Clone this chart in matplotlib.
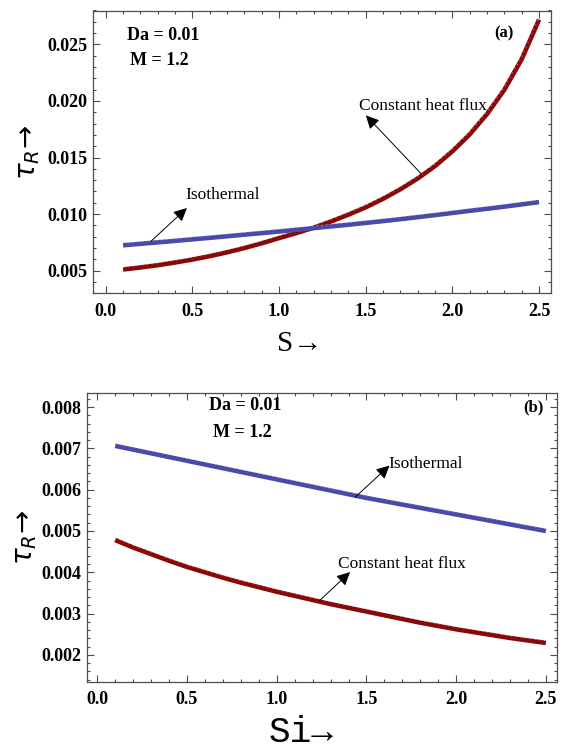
import numpy as np
import matplotlib
matplotlib.use('Agg')
from matplotlib import pyplot as plt
from matplotlib import transforms
from matplotlib.ticker import MultipleLocator

# x grid shared by both panels (S in (a), Si in (b))
x_vals = [0.1, 0.2, 0.3, 0.4, 0.5, 0.6, 0.7, 0.8, 0.9, 1.0, 1.1, 1.2, 1.3,
          1.4, 1.5, 1.6, 1.7, 1.8, 1.9, 2.0, 2.1, 2.2, 2.3, 2.4, 2.5]

# panel (a): tau_R vs S
a_flux = [0.00510, 0.00528, 0.00548, 0.00572, 0.00598, 0.00628, 0.00662,
          0.00700, 0.00742, 0.00788, 0.00832, 0.00880, 0.00935, 0.00995,
          0.01060, 0.01135, 0.01220, 0.01315, 0.01425, 0.01555, 0.01705,
          0.01885, 0.02100, 0.02370, 0.02720]
a_iso = [0.00724, 0.00737, 0.00750, 0.00763, 0.00777, 0.00790, 0.00804,
         0.00818, 0.00832, 0.00846, 0.00861, 0.00876, 0.00891, 0.00906,
         0.00922, 0.00938, 0.00955, 0.00973, 0.00991, 0.01010, 0.01029,
         0.01047, 0.01066, 0.01086, 0.01106]

# panel (b): tau_R vs Si
b_iso = [0.00706, 0.00697, 0.00688, 0.00679, 0.00670, 0.00661, 0.00652,
         0.00643, 0.00634, 0.00625, 0.00616, 0.00607, 0.00598, 0.00589,
         0.00580, 0.00572, 0.00564, 0.00556, 0.00548, 0.00540, 0.00532,
         0.00524, 0.00516, 0.00508, 0.00500]
b_flux = [0.00478, 0.00460, 0.00444, 0.00428, 0.00413, 0.00400, 0.00387,
          0.00375, 0.00364, 0.00353, 0.00343, 0.00333, 0.00323, 0.00314,
          0.00305, 0.00296, 0.00287, 0.00278, 0.00270, 0.00262, 0.00255,
          0.00248, 0.00241, 0.00235, 0.00229]

red = '#8a0808'
blue = '#4a4aa8'
serif = 'Liberation Serif'

fig = plt.figure(figsize=(5.64, 7.5), dpi=100)
ax1 = fig.add_axes([0.165, 0.609, 0.812, 0.377])
ax2 = fig.add_axes([0.154, 0.091, 0.833, 0.385])


def style_axes(ax, xmaj, xmin, ymaj, ymin, fmt):
    ax.xaxis.set_major_locator(MultipleLocator(xmaj))
    ax.xaxis.set_minor_locator(MultipleLocator(xmin))
    ax.yaxis.set_major_locator(MultipleLocator(ymaj))
    ax.yaxis.set_minor_locator(MultipleLocator(ymin))
    ax.tick_params(which='both', direction='in', top=True, right=True,
                   color='0.3', width=0.8)
    ax.tick_params(which='major', length=5)
    ax.tick_params(which='minor', length=2.5)
    ax.tick_params(axis='x', pad=7)
    ax.tick_params(axis='y', pad=4)
    ax.xaxis.set_major_formatter(plt.FuncFormatter(lambda v, p: '%.1f' % v))
    ax.yaxis.set_major_formatter(plt.FuncFormatter(lambda v, p: fmt % v))
    for lab in ax.get_xticklabels() + ax.get_yticklabels():
        lab.set_fontfamily(serif)
        lab.set_fontweight('bold')
        lab.set_fontsize(13)
    for sp in ax.spines.values():
        sp.set_color('0.3')
        sp.set_linewidth(0.9)


def curve(ax, x, y, c):
    # thick line plus the faint tick texture along its upper edge
    ax.plot(x, y, color=c, lw=3.3, solid_capstyle='butt')
    up = transforms.offset_copy(ax.transData, fig=fig, y=2.2, units='dots')
    ax.plot(x, y, color='#c8c8e0', lw=0.7, ls=(0, (1, 4)), transform=up, alpha=0.8)


arrow = dict(arrowstyle='-|>', color='black', lw=0.7, mutation_scale=20)

# ---- panel (a)
curve(ax1, x_vals, a_flux, red)
curve(ax1, x_vals, a_iso, blue)
ax1.set_xlim(-0.073, 2.569)
ax1.set_ylim(0.003, 0.028)
style_axes(ax1, 0.5, 0.1, 0.005, 0.001, '%.3f')

ax1.text(0.12, 0.0258, 'Da = 0.01', family=serif, weight='bold', fontsize=13, va='center')
ax1.text(0.14, 0.0236, 'M = 1.2', family=serif, weight='bold', fontsize=13, va='center')
ax1.text(2.30, 0.0260, '(a)', family=serif, weight='bold', fontsize=12, va='center', ha='center')
ax1.annotate('', xy=(1.49, 0.0189), xytext=(1.83, 0.0134), arrowprops=arrow)
ax1.text(1.46, 0.0196, 'Constant heat flux', family=serif, fontsize=12.5, va='center')
ax1.annotate('', xy=(0.48, 0.0107), xytext=(0.25, 0.00744), arrowprops=arrow)
ax1.text(0.46, 0.01165, 'Isothermal', family=serif, fontsize=12.5, va='center')

ax1.set_xlabel('S\u2192', family=serif, fontsize=21)
ax1.xaxis.label.set_va('center')
ax1.xaxis.set_label_coords(0.451, -0.18)
ax1.set_ylabel(r'$\tau_{R}\!\rightarrow$', fontsize=20)
ax1.yaxis.label.set_va('center')
ax1.yaxis.set_label_coords(-0.142, 0.5)

# ---- panel (b)
curve(ax2, x_vals, b_iso, blue)
curve(ax2, x_vals, b_flux, red)
ax2.set_xlim(-0.058, 2.56)
ax2.set_ylim(0.00135, 0.00834)
style_axes(ax2, 0.5, 0.1, 0.001, 0.0002, '%.3f')

ax2.text(0.62, 0.00803, 'Da = 0.01', family=serif, weight='bold', fontsize=13, va='center')
ax2.text(0.645, 0.00738, 'M = 1.2', family=serif, weight='bold', fontsize=13, va='center')
ax2.text(2.43, 0.00800, '(b)', family=serif, weight='bold', fontsize=12, va='center', ha='center')
ax2.annotate('', xy=(1.64, 0.00663), xytext=(1.425, 0.00577), arrowprops=arrow)
ax2.text(1.62, 0.00661, 'Isothermal', family=serif, fontsize=12.5, va='center')
ax2.annotate('', xy=(1.42, 0.00405), xytext=(1.225, 0.00326), arrowprops=arrow)
ax2.text(1.34, 0.0042, 'Constant heat flux', family=serif, fontsize=12.5, va='center')

ax2.set_xlabel('Si\u2192', family='Liberation Mono', fontsize=26)
ax2.xaxis.label.set_va('center')
ax2.xaxis.set_label_coords(0.455, -0.177)
ax2.set_ylabel(r'$\tau_{R}\!\rightarrow$', fontsize=20)
ax2.yaxis.label.set_va('center')
ax2.yaxis.set_label_coords(-0.132, 0.5)

fig.savefig('out.png', dpi=100)
